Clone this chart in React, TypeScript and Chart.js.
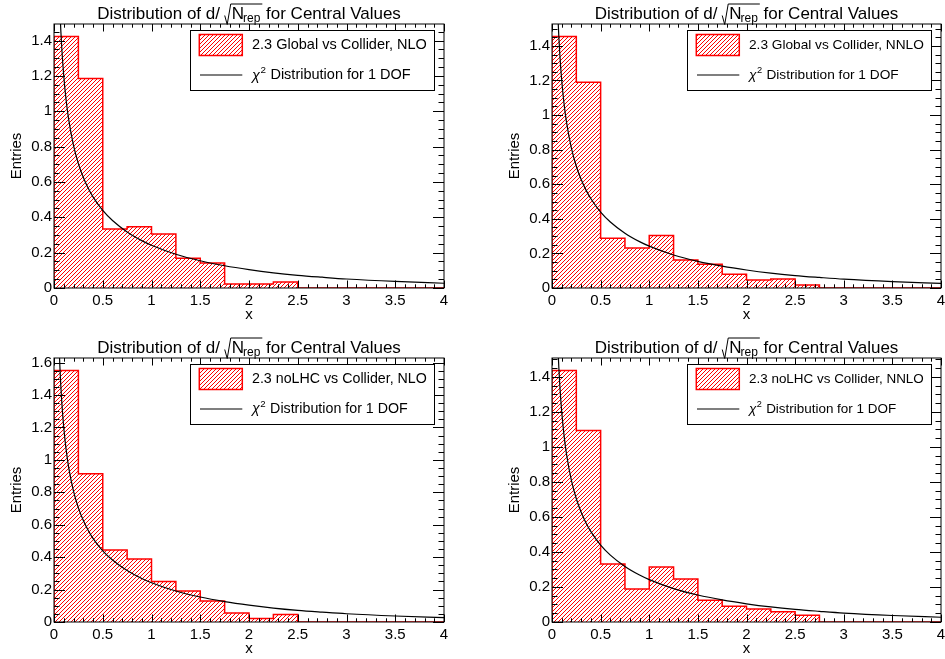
import React, { useEffect, useRef } from "react";
import { Chart, registerables } from "chart.js";

Chart.register(...registerables);

// ---------------- data ----------------
const binEdges = [0, 0.25, 0.5, 0.75, 1, 1.25, 1.5, 1.75, 2, 2.25, 2.5, 2.75, 3, 3.25, 3.5, 3.75, 4];

const globalNLO = [1.423, 1.185, 0.334, 0.347, 0.306, 0.168, 0.142, 0.023, 0.023, 0.034, 0, 0, 0, 0, 0, 0];
const globalNNLO = [1.454, 1.19, 0.288, 0.232, 0.303, 0.162, 0.137, 0.079, 0.046, 0.052, 0.017, 0, 0, 0, 0, 0];
const noLHCNLO = [1.551, 0.914, 0.444, 0.388, 0.25, 0.191, 0.129, 0.055, 0.021, 0.046, 0, 0, 0, 0, 0, 0];
const noLHCNNLO = [1.436, 1.094, 0.331, 0.188, 0.314, 0.245, 0.124, 0.09, 0.074, 0.059, 0.038, 0, 0, 0, 0, 0];

const chi2X = [0.05, 0.06, 0.07, 0.08, 0.1, 0.125, 0.15, 0.2, 0.25, 0.3, 0.35, 0.4, 0.5, 0.6, 0.75, 0.9, 1, 1.25, 1.5, 1.75, 2, 2.25, 2.5, 2.75, 3, 3.5, 4];
const chi2Y = [1.74, 1.581, 1.456, 1.355, 1.2, 1.06, 0.956, 0.807, 0.704, 0.627, 0.566, 0.516, 0.439, 0.382, 0.317, 0.268, 0.242, 0.191, 0.154, 0.126, 0.104, 0.086, 0.072, 0.061, 0.051, 0.037, 0.027];

const legendLabels = [
  "2.3 Global vs Collider, NLO",
  "2.3 Global vs Collider, NNLO",
  "2.3 noLHC vs Collider, NLO",
  "2.3 noLHC vs Collider, NNLO",
];
const seriesList = [globalNLO, globalNNLO, noLHCNLO, noLHCNNLO];

const xTickStep = 0.5;
const yTickStep = 0.2;

// ---------------- layout ----------------
const layouts = [
  { left: 0, top: 0, width: 472, height: 329, area: { l: 54, t: 24, r: 444, b: 288 }, phase: 0 },
  { left: 472, top: 0, width: 480, height: 329, area: { l: 80, t: 24, r: 469, b: 288 }, phase: 1 },
  { left: 0, top: 329, width: 472, height: 330, area: { l: 54, t: 29, r: 444, b: 293 }, phase: 0 },
  { left: 472, top: 329, width: 480, height: 330, area: { l: 80, t: 29, r: 469, b: 293 }, phase: 3 },
];

const FONT = '"Liberation Sans", Arial, Helvetica, sans-serif';
const HATCH_STEP = 4;

function fmt(v: number) {
  return String(Math.round(v * 100) / 100);
}

// draw ROOT-style "///" hatching inside the current clip region
function hatchLines(ctx: CanvasRenderingContext2D, x0: number, y0: number, x1: number, y1: number, phase: number) {
  ctx.save();
  ctx.strokeStyle = "#ff0000";
  ctx.lineWidth = 1;
  ctx.beginPath();
  const start = Math.floor((x0 + y0) / HATCH_STEP) * HATCH_STEP - HATCH_STEP + phase;
  for (let c = start; c <= x1 + y1 + HATCH_STEP; c += HATCH_STEP) {
    ctx.moveTo(c - y1 - 1, y1 + 1);
    ctx.lineTo(c - y0 + 1, y0 - 1);
  }
  ctx.stroke();
  ctx.restore();
}

function makeDecor(label: string, phase: number) {
  return {
    id: "rootDecor",
    beforeDatasetDraw(chart: any, args: any) {
      if (args.index !== 1) return;
      const { ctx, chartArea: a } = chart;
      const line = chart.getDatasetMeta(1).dataset;
      if (!line) return;
      ctx.save();
      ctx.beginPath();
      ctx.rect(a.left, a.top, a.right - a.left, a.bottom - a.top);
      ctx.clip();
      ctx.beginPath();
      line.path(ctx);
      ctx.closePath();
      ctx.clip();
      hatchLines(ctx, a.left, a.top, a.right, a.bottom, phase);
      ctx.restore();
    },
    afterDatasetsDraw(chart: any) {
      const { ctx, chartArea: a, scales } = chart;
      const xs = scales.x;
      const ys = scales.y;
      ctx.save();
      ctx.strokeStyle = "#000";
      ctx.lineWidth = 1;
      ctx.strokeRect(a.left, a.top, a.right - a.left, a.bottom - a.top);
      ctx.beginPath();
      const ymax = ys.max;
      for (let k = 0; k * 0.05 <= ymax + 1e-9; k++) {
        const v = k * 0.05;
        const py = Math.round(ys.getPixelForValue(v)) + 0.5;
        const len = k % 4 === 0 ? 11 : 5.5;
        ctx.moveTo(a.left, py);
        ctx.lineTo(a.left + len, py);
        ctx.moveTo(a.right, py);
        ctx.lineTo(a.right - len, py);
      }
      for (let k = 0; k * 0.1 <= xs.max + 1e-9; k++) {
        const v = k * 0.1;
        const px = Math.round(xs.getPixelForValue(v)) + 0.5;
        const len = k % 5 === 0 ? 7.5 : 3.7;
        ctx.moveTo(px, a.bottom);
        ctx.lineTo(px, a.bottom - len);
        ctx.moveTo(px, a.top);
        ctx.lineTo(px, a.top + len);
      }
      ctx.stroke();
      ctx.restore();
    },
    afterDraw(chart: any) {
      const { ctx, chartArea: a } = chart;
      ctx.save();
      ctx.fillStyle = "#000";
      ctx.strokeStyle = "#000";
      ctx.textBaseline = "alphabetic";
      ctx.textAlign = "left";

      // ---- title ----
      const big = `17px ${FONT}`;
      const small = `12px ${FONT}`;
      const p1 = "Distribution of d/ ";
      const p3 = " for Central Values";
      ctx.font = big;
      const w1 = ctx.measureText(p1).width;
      const wN = ctx.measureText("N").width;
      const w3 = ctx.measureText(p3).width;
      ctx.font = small;
      const wSub = ctx.measureText("rep").width;
      const rad = 7;
      const total = w1 + rad + wN + wSub + w3;
      const cx = (a.left + a.right) / 2;
      const x0 = cx - total / 2;
      const base = a.top - 5.5;
      ctx.font = big;
      ctx.fillText(p1, x0, base);
      const rx = x0 + w1;
      ctx.lineWidth = 1;
      ctx.beginPath();
      ctx.moveTo(rx, base - 3);
      ctx.lineTo(rx + 2.5, base + 6);
      ctx.lineTo(rx + 6, base - 14.5);
      ctx.lineTo(rx + rad + wN + wSub + 1, base - 14.5);
      ctx.stroke();
      ctx.fillText("N", rx + rad, base);
      ctx.font = small;
      ctx.fillText("rep", rx + rad + wN - 1, base + 3.5);
      ctx.font = big;
      ctx.fillText(p3, rx + rad + wN + wSub, base);

      // ---- axis titles ----
      ctx.font = `15px ${FONT}`;
      ctx.textAlign = "center";
      ctx.fillText("x", cx, a.bottom + 31);
      ctx.save();
      ctx.translate(a.left - 33.3, (a.top + a.bottom) / 2);
      ctx.rotate(-Math.PI / 2);
      ctx.fillText("Entries", 0, 0);
      ctx.restore();

      // ---- legend ----
      const bl = a.right - 253.7;
      const br = a.right - 10;
      const bt = a.top + 6;
      const bb = a.top + 65.5;
      ctx.fillStyle = "#fff";
      ctx.fillRect(bl, bt, br - bl, bb - bt);
      ctx.lineWidth = 1;
      ctx.strokeStyle = "#000";
      ctx.strokeRect(Math.round(bl) + 0.5, Math.round(bt) + 0.5, Math.round(br - bl), Math.round(bb - bt));
      // swatch
      const sx = bl + 9;
      const sy = a.top + 10.5;
      ctx.save();
      ctx.beginPath();
      ctx.rect(sx, sy, 43, 21);
      ctx.clip();
      hatchLines(ctx, sx, sy, sx + 43, sy + 21, phase);
      ctx.restore();
      ctx.strokeStyle = "#ff0000";
      ctx.lineWidth = 1.5;
      ctx.strokeRect(sx, sy, 43, 21);
      // line sample
      ctx.strokeStyle = "#000";
      ctx.lineWidth = 1.2;
      ctx.beginPath();
      ctx.moveTo(bl + 9.7, a.top + 51);
      ctx.lineTo(bl + 52, a.top + 51);
      ctx.stroke();
      // fit legend text to the box (as ROOT does)
      ctx.font = `100px ${FONT}`;
      const fsz = Math.min(14.5, (175 / ctx.measureText(label).width) * 100);
      const lf = `${fsz}px ${FONT}`;
      ctx.fillStyle = "#000";
      ctx.textAlign = "left";
      ctx.textBaseline = "middle";
      ctx.font = lf;
      const tx = bl + 61.7;
      ctx.fillText(label, tx, a.top + 21);
      ctx.font = `italic ${fsz}px ${FONT}`;
      ctx.fillText("\u03c7", tx, a.top + 51.5);
      const wChi = ctx.measureText("\u03c7").width;
      ctx.font = `${fsz * 0.68}px ${FONT}`;
      ctx.fillText("2", tx + wChi + 0.5, a.top + 46);
      const w2 = ctx.measureText("2").width;
      ctx.font = lf;
      ctx.fillText(" Distribution for 1 DOF", tx + wChi + w2 + 1, a.top + 51);
      ctx.restore();
    },
  };
}

function Panel({ idx }: { idx: number }) {
  const ref = useRef<HTMLCanvasElement | null>(null);
  const L = layouts[idx];
  useEffect(() => {
    const canvas = ref.current;
    if (!canvas) return;
    const values = seriesList[idx];
    const a = L.area;
    const histPoints = [{ x: binEdges[0], y: 0 }]
      .concat(values.map((v, i) => ({ x: binEdges[i], y: v })))
      .concat([
        { x: binEdges[binEdges.length - 1], y: values[values.length - 1] },
        { x: binEdges[binEdges.length - 1], y: 0 },
      ]);
    const curve = chi2X.map((x, i) => ({ x, y: chi2Y[i] }));
    const ymax = Math.max(...values) * 1.05;
    const tickFont = { family: FONT, size: 15 };
    const chart = new Chart(canvas, {
      type: "line",
      data: {
        datasets: [
          {
            label: "chi2",
            data: curve,
            borderColor: "#000",
            borderWidth: 1.2,
            pointRadius: 0,
            fill: false,
            cubicInterpolationMode: "monotone",
          } as any,
          {
            label: legendLabels[idx],
            data: histPoints,
            stepped: true,
            borderColor: "#ff0000",
            borderWidth: 1.5,
            backgroundColor: "rgba(0,0,0,0)",
            fill: false,
            pointRadius: 0,
          } as any,
        ],
      },
      options: {
        animation: false,
        responsive: false,
        maintainAspectRatio: false,
        events: [],
        layout: { padding: { left: 0, top: a.t, right: L.width - a.r, bottom: 0 } },
        plugins: {
          legend: { display: false },
          title: { display: false },
          tooltip: { enabled: false },
        },
        scales: {
          x: {
            type: "linear",
            min: 0,
            max: 4,
            grid: { display: false, drawTicks: false },
            border: { display: false },
            ticks: {
              stepSize: xTickStep,
              padding: 4,
              color: "#000",
              font: tickFont,
              maxRotation: 0,
              autoSkip: false,
              includeBounds: false,
              callback: (v: any) => fmt(Number(v)),
            },
            afterFit: (s: any) => {
              s.height = L.height - a.b;
            },
          },
          y: {
            type: "linear",
            min: 0,
            max: ymax,
            grid: { display: false, drawTicks: false },
            border: { display: false },
            ticks: {
              stepSize: yTickStep,
              padding: 2,
              color: "#000",
              font: tickFont,
              autoSkip: false,
              includeBounds: false,
              callback: (v: any) => fmt(Number(v)),
            },
            afterFit: (s: any) => {
              s.width = a.l;
            },
          },
        },
      } as any,
      plugins: [makeDecor(legendLabels[idx], L.phase)],
    });
    return () => chart.destroy();
  }, [idx]);
  return (
    <canvas
      ref={ref}
      width={L.width}
      height={L.height}
      style={{ position: "absolute", left: L.left, top: L.top, width: L.width, height: L.height }}
    />
  );
}

export default function App() {
  return (
    <div
      style={{
        position: "fixed",
        left: 0,
        top: 0,
        width: 945,
        height: 659,
        overflow: "hidden",
        background: "#fff",
      }}
    >
      {layouts.map((_, i) => (
        <Panel key={i} idx={i} />
      ))}
    </div>
  );
}
